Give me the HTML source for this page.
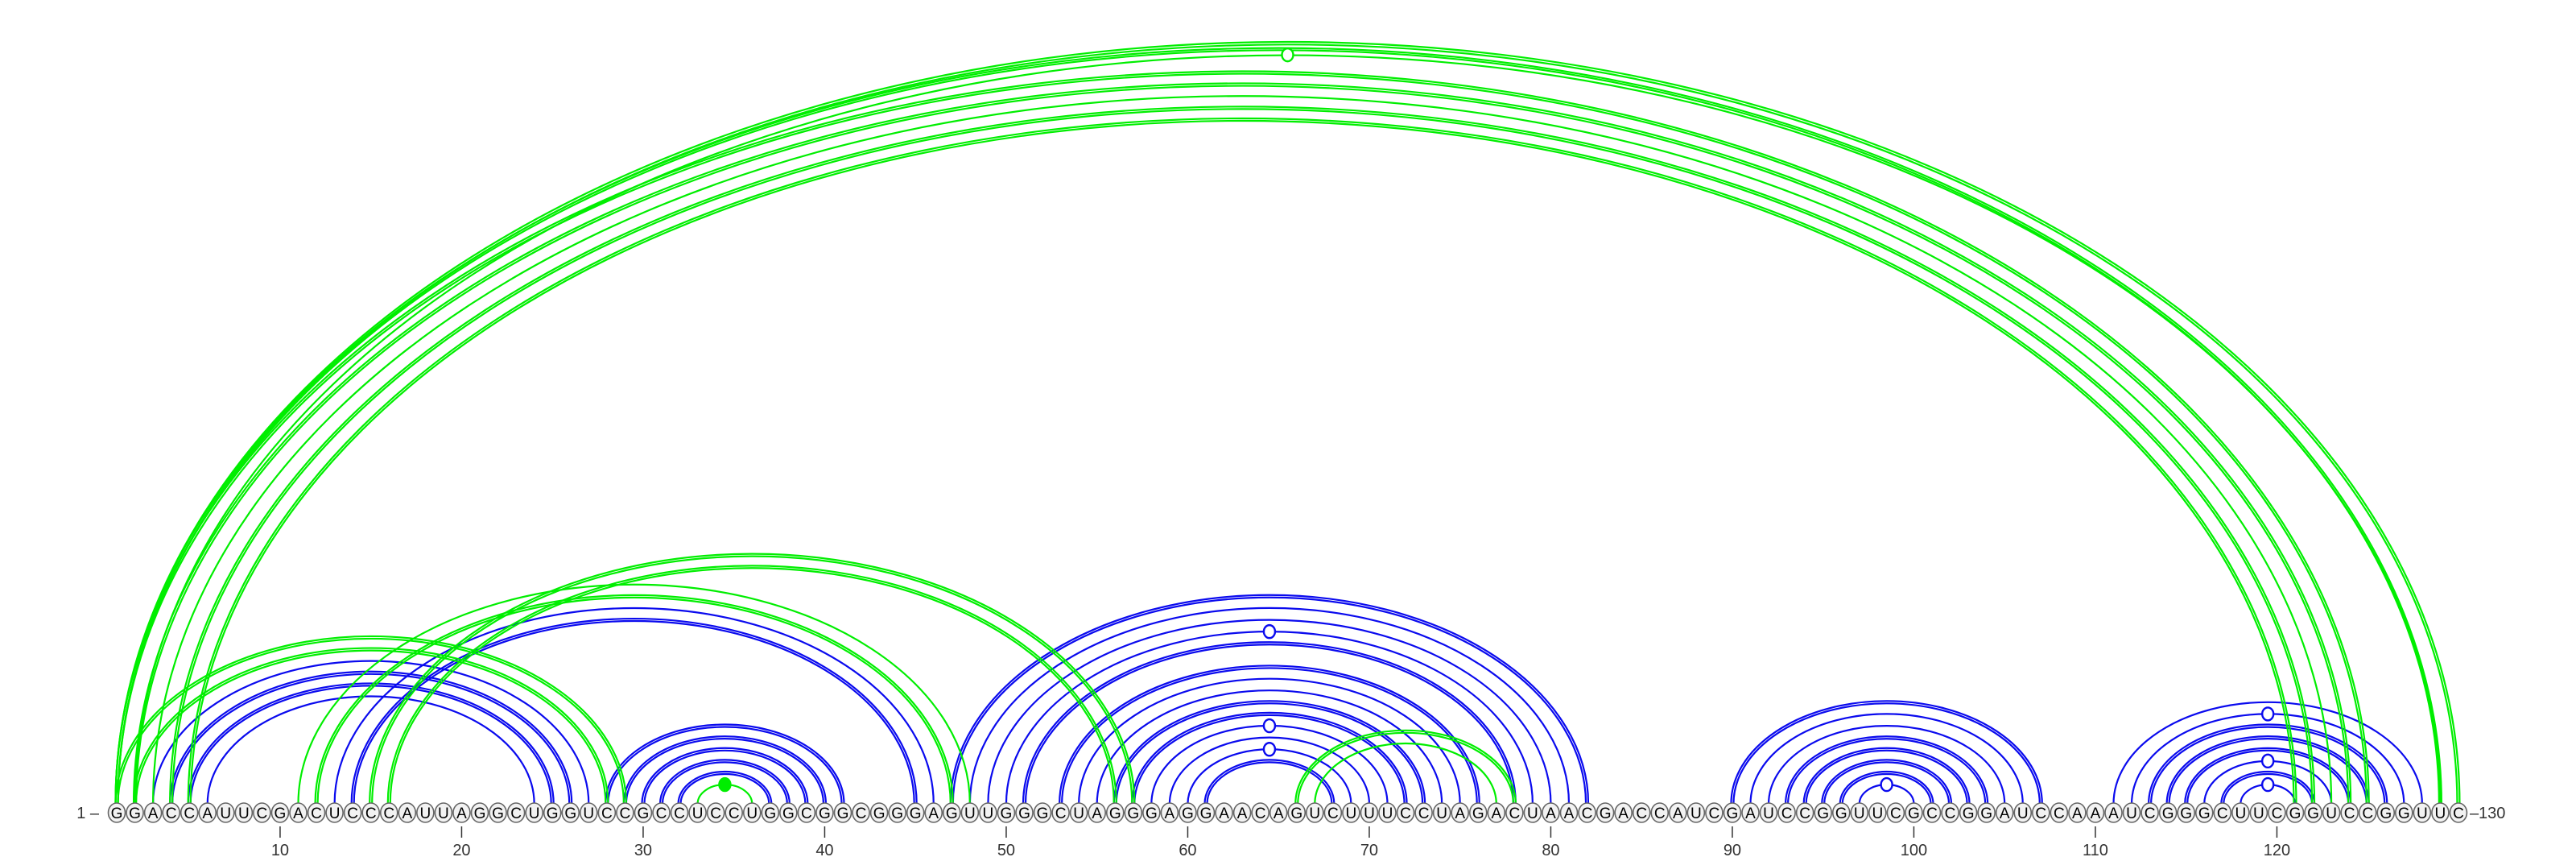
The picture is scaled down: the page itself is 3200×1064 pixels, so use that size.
<!DOCTYPE html>
<html><head><meta charset="utf-8"><style>
html,body{margin:0;padding:0;background:#fff;}
svg{display:block;}
text{font-family:"Liberation Sans",sans-serif;}
</style></head><body>
<svg id="chart" width="3200" height="1064" viewBox="0 0 3200 1064" xmlns="http://www.w3.org/2000/svg">
<g id="arcs-blue"></g>
<g id="arcs-green"></g>
<g id="seq"></g>
<g id="axis"></g>
</svg>
<script>
const sequence = "GGACCAUUCGACUCCCAUUAGGCUGGUCCGCCUCCUGGCGGCGGGAGUUGGGCUAGGGAGGAACAGUCUUUCCUAGACUAACGACCAUCGAUCCGGUUCGCCGGAUCCAAAUCGGGCUUCGGUCCGGUUC";
const tickPositions = [10,20,30,40,50,60,70,80,90,100,110,120];
// blue structure pairs
const blueI = [3,4,5,6,13,14,28,29,30,31,32,47,48,49,50,51,53,54,55,56,57,58,59,60,61,90,91,92,93,94,95,96,97,111,112,113,114,115,116,117,118];
const blueJ = [27,26,25,24,46,45,41,40,39,38,37,82,81,80,79,78,76,75,74,73,72,71,70,69,68,107,106,105,104,103,102,101,100,128,127,126,125,124,123,122,121];
const blueLines = [1,2,2,1,1,2,2,2,2,2,2,2,1,1,1,2,2,1,1,2,2,1,1,1,2,2,1,1,2,2,2,2,1,1,1,2,2,2,1,2,1];
const blueMark = [0,0,0,0,0,0,0,0,0,0,0,0,0,0,1,0,0,0,0,0,0,1,0,1,0,0,0,0,0,0,0,0,1,0,1,0,0,0,1,0,1];
// green structure pairs
const greenI = [1,1,2,1,2,3,4,5,1,2,11,12,15,16,33,66,67];
const greenJ = [130,129,129,125,124,123,122,121,29,28,48,47,57,56,36,78,77];
const greenLines = [2,2,1,2,2,1,2,2,2,2,1,2,2,2,1,2,1];
const greenMark = [0,0,1,0,0,0,0,0,0,0,0,0,0,0,2,0,0];

const NS="http://www.w3.org/2000/svg";
const X0=145, DX=22.55, BASE_Y=1009, ARC_Y=998;
function xPos(i){return X0+(i-1)*DX;}
function arcH(a){return 0.648*a+2;}
function mk(tag,attrs,parent){const e=document.createElementNS(NS,tag);for(const k in attrs)e.setAttribute(k,attrs[k]);parent.appendChild(e);return e;}

function drawArcs(I,J,L,M,color,gid,label){
  const g=document.getElementById(gid);
  for(let k=0;k<I.length;k++){
    const x1=xPos(I[k]),x2=xPos(J[k]);
    const a=(x2-x1)/2, h=arcH(a), cx=(x1+x2)/2;
    const offs=L[k]===2?[-1.5,1.5]:[0];
    offs.forEach(o=>{
      const p=mk('path',{d:`M${x1+o},${ARC_Y} A${a-o},${h-o} 0 0 1 ${x2-o},${ARC_Y}`,fill:'none',stroke:color,'stroke-width':2.2},g);
      
      
    });
    if(M[k]){
      const c=mk('ellipse',{cx:cx,cy:ARC_Y-h,rx:7,ry:8,fill:M[k]===2?color:'#fff',stroke:color,'stroke-width':2.4},g);
      
      
    }
  }
}
drawArcs(blueI,blueJ,blueLines,blueMark,'#0a0aee','arcs-blue','blue');
drawArcs(greenI,greenJ,greenLines,greenMark,'#00ee00','arcs-green','green');

const sg=document.getElementById('seq');
for(let i=1;i<=sequence.length;i++){
  const x=xPos(i);
  const c=mk('ellipse',{cx:x,cy:BASE_Y,rx:10.5,ry:12,fill:'#f2f2f2',stroke:'#666','stroke-width':1.6},sg);
  
  
  const t=mk('text',{x:x,y:BASE_Y+7,'text-anchor':'middle','font-size':19,fill:'#000'},sg);
  t.textContent=sequence[i-1];
  
  
}
const ag=document.getElementById('axis');
const s=mk('text',{x:xPos(1)-22,y:BASE_Y+7,'text-anchor':'end','font-size':20,fill:'#333'},ag);
s.textContent='1 \u2013';


const e=mk('text',{x:xPos(sequence.length)+14,y:BASE_Y+7,'text-anchor':'start','font-size':20,fill:'#333'},ag);
e.textContent='\u2013130';


tickPositions.forEach(p=>{
  const x=xPos(p);
  const l=mk('line',{x1:x,y1:1026,x2:x,y2:1040,stroke:'#333','stroke-width':1.5},ag);
  
  
  const t=mk('text',{x:x,y:1062,'text-anchor':'middle','font-size':20,fill:'#333'},ag);
  t.textContent=String(p);
  
  
});
</script>
</body></html>
